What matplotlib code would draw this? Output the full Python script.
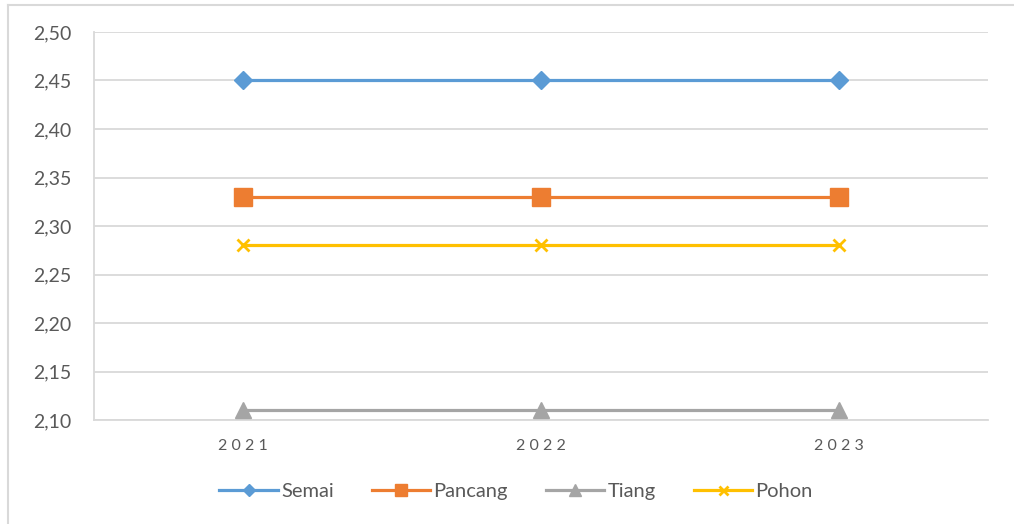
import matplotlib
matplotlib.use("Agg")
import matplotlib.pyplot as plt
from matplotlib.lines import Line2D

years = ["2021", "2022", "2023"]
semai = [2.45, 2.45, 2.45]
pancang = [2.33, 2.33, 2.33]
tiang = [2.11, 2.11, 2.11]
pohon = [2.28, 2.28, 2.28]
y_ticks = [2.10, 2.15, 2.20, 2.25, 2.30, 2.35, 2.40, 2.45, 2.50]

plt.rcParams["font.family"] = ["Lato", "DejaVu Sans"]
text_color = "#595959"
grid_color = "#d9d9d9"

fig = plt.figure(figsize=(10.14, 5.24), dpi=100)
ax = fig.add_axes([94 / 1014, 1 - 420 / 524, (988 - 94) / 1014, (420 - 32) / 524])

x = list(range(len(years)))
ax.plot(x, semai, color="#5b9bd5", lw=2.3, marker="D", ms=9, label="Semai", zorder=3)
ax.plot(x, pancang, color="#ed7d31", lw=2.3, marker="s", ms=12.5, label="Pancang", zorder=3)
ax.plot(x, tiang, color="#a5a5a5", lw=2.3, marker="^", ms=12, label="Tiang", zorder=3)
ax.plot(x, pohon, color="#ffc000", lw=2.3, marker="x", ms=9, mew=2, label="Pohon", zorder=3)

ax.set_xlim(-0.5, 2.5)
ax.set_ylim(2.10, 2.50)
ax.set_yticks(y_ticks)
ax.set_yticklabels([f"{v:.2f}".replace(".", ",") for v in y_ticks])
ax.set_xticks(x)
ax.set_xticklabels([" ".join(y) for y in years])

ax.grid(axis="y", color=grid_color, lw=1.3)
ax.set_axisbelow(True)
for side in ["top", "right"]:
    ax.spines[side].set_visible(False)
ax.spines["left"].set_color(grid_color)
ax.spines["left"].set_linewidth(1.3)
ax.spines["bottom"].set_color(grid_color)
ax.spines["bottom"].set_linewidth(1.3)

ax.tick_params(axis="y", length=0, pad=16, labelsize=14, labelcolor=text_color)
ax.tick_params(axis="x", length=0, pad=14, labelsize=11.5, labelcolor=text_color)

fig.legend(loc="center", bbox_to_anchor=(0.509, 1 - 491 / 524), ncol=4, frameon=False,
           fontsize=14.5, labelcolor=text_color, handlelength=2.9, handletextpad=0.15,
           columnspacing=1.9, markerscale=0.72)

# light frame around the chart area (top and left edges)
fig.add_artist(Line2D([8 / 1014, 1], [1 - 5 / 524, 1 - 5 / 524], color=grid_color, lw=1.5,
                      transform=fig.transFigure))
fig.add_artist(Line2D([8 / 1014, 8 / 1014], [0, 1 - 5 / 524], color=grid_color, lw=1.5,
                      transform=fig.transFigure))

fig.savefig("out.png", dpi=100, facecolor="white")
